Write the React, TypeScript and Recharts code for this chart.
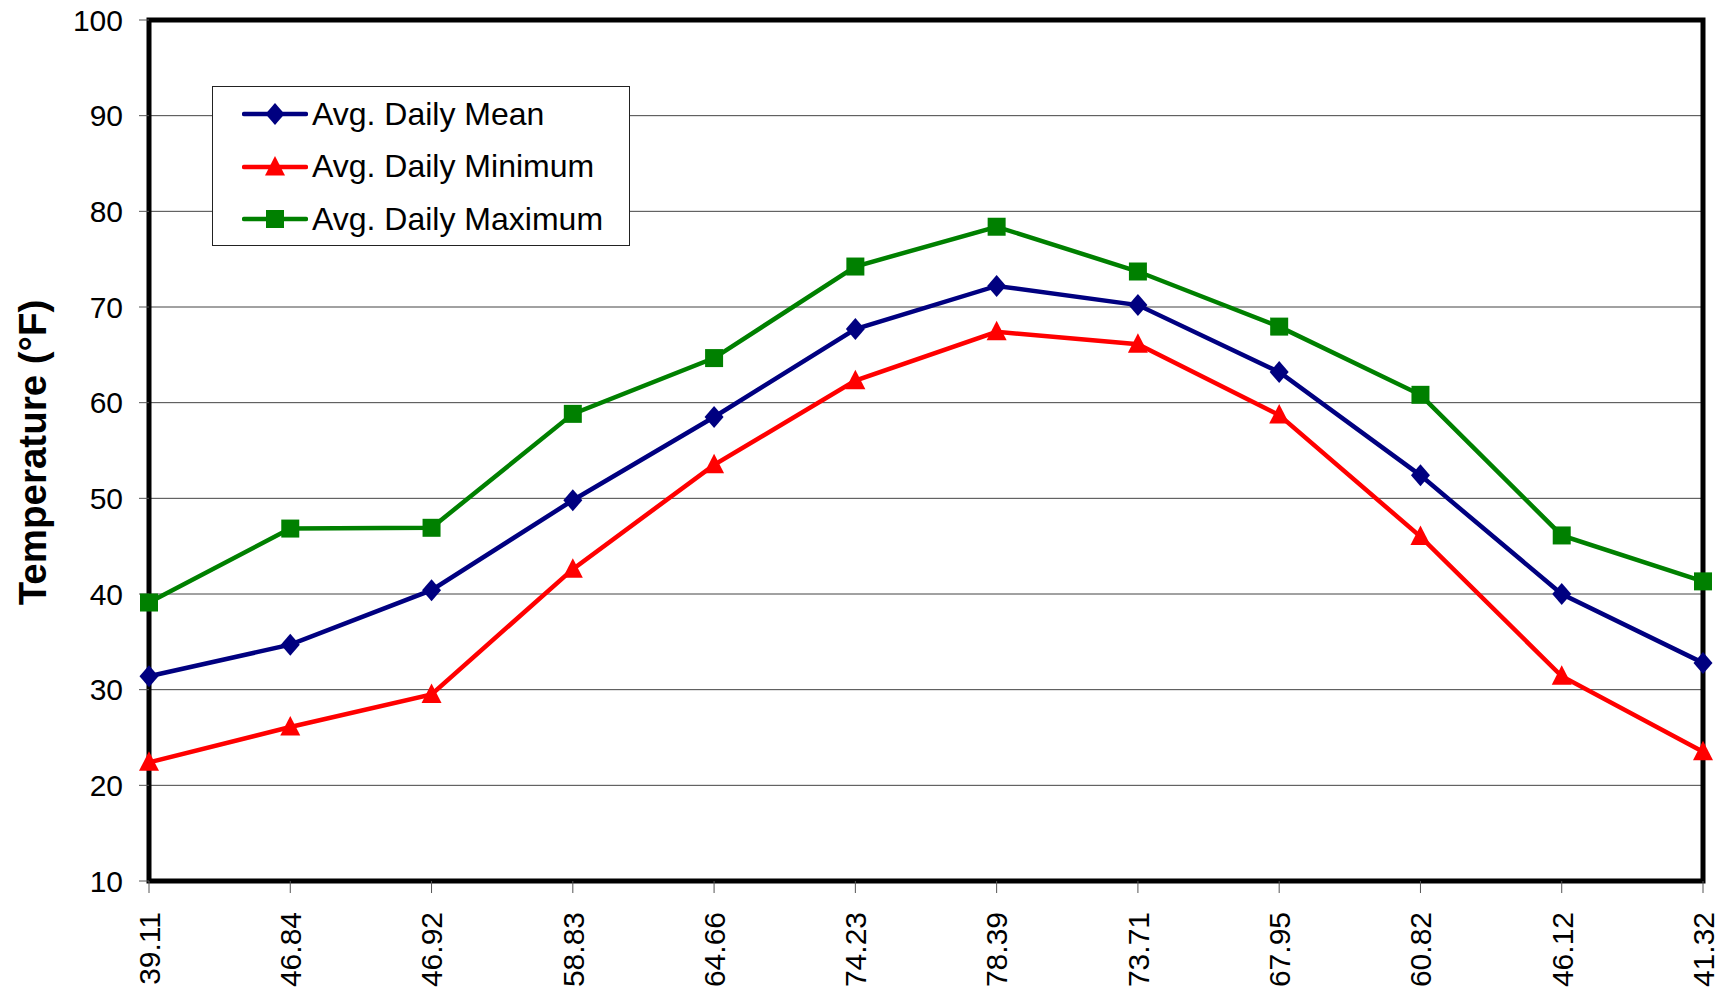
import React from "react";
import { CartesianGrid, Legend, Line, LineChart, ReferenceArea, XAxis, YAxis } from "recharts";

const categories = ["39.11", "46.84", "46.92", "58.83", "64.66", "74.23", "78.39", "73.71", "67.95", "60.82", "46.12", "41.32"];
const meanTemps = [31.4, 34.7, 40.4, 49.8, 58.5, 67.7, 72.2, 70.2, 63.2, 52.4, 40.0, 32.8];
const minTemps = [22.4, 26.1, 29.5, 42.6, 53.5, 62.3, 67.4, 66.1, 58.7, 46.0, 31.4, 23.5];
const maxTemps = [39.11, 46.84, 46.92, 58.83, 64.66, 74.23, 78.39, 73.71, 67.95, 60.82, 46.12, 41.32];
const yTicks = [10, 20, 30, 40, 50, 60, 70, 80, 90, 100];

const FONT = '"Liberation Sans", Arial, sans-serif';

const chartData = categories.map((label, i) => ({
  label,
  mean: meanTemps[i],
  min: minTemps[i],
  max: maxTemps[i],
}));

type Shape = "diamond" | "triangle" | "square";

const series: { key: string; name: string; color: string; shape: Shape }[] = [
  { key: "mean", name: "Avg. Daily Mean", color: "#000080", shape: "diamond" },
  { key: "min", name: "Avg. Daily Minimum", color: "#ff0000", shape: "triangle" },
  { key: "max", name: "Avg. Daily Maximum", color: "#008000", shape: "square" },
];

function markerPath(shape: Shape, cx: number, cy: number) {
  if (shape === "diamond") return `M${cx},${cy - 11}L${cx + 9.5},${cy}L${cx},${cy + 11}L${cx - 9.5},${cy}Z`;
  if (shape === "triangle") return `M${cx},${cy - 11}L${cx + 10},${cy + 8.5}L${cx - 10},${cy + 8.5}Z`;
  return `M${cx - 9},${cy - 9}H${cx + 9}V${cy + 9}H${cx - 9}Z`;
}

function makeDot(shape: Shape, color: string) {
  return (props: any) => {
    if (props.cx == null || props.cy == null) return <g key={props.index} />;
    return <path key={props.index} d={markerPath(shape, props.cx, props.cy)} fill={color} />;
  };
}

function XTick({ x, y, payload }: any) {
  return (
    <text
      transform={`translate(${x},${y + 17}) rotate(-90)`}
      textAnchor="end"
      dy="0.36em"
      fontSize={30}
      fontFamily={FONT}
      fill="#000"
    >
      {payload.value}
    </text>
  );
}

function AxisTitle({ viewBox }: any) {
  const cy = viewBox ? viewBox.y + viewBox.height / 2 : 450;
  return (
    <text
      transform={`translate(46,${cy + 2}) rotate(-90)`}
      textAnchor="middle"
      fontSize={38.5}
      fontWeight="bold"
      fontFamily={FONT}
      fill="#000"
    >
      Temperature (°F)
    </text>
  );
}

function LegendBox() {
  return (
    <div
      style={{
        width: 418,
        height: 160,
        boxSizing: "border-box",
        border: "1px solid #222",
        background: "#fff",
        paddingTop: 1,
        fontFamily: FONT,
      }}
    >
      {series.map((s) => (
        <div key={s.key} style={{ display: "flex", alignItems: "center", height: 52.5 }}>
          <svg width={66} height={26} style={{ marginLeft: 29, marginRight: 4 }}>
            <line x1={2} y1={13} x2={64} y2={13} stroke={s.color} strokeWidth={4.5} strokeLinecap="round" />
            <path d={markerPath(s.shape, 33, 13)} fill={s.color} />
          </svg>
          <span style={{ fontSize: 32, color: "#000", whiteSpace: "nowrap" }}>{s.name}</span>
        </div>
      ))}
    </div>
  );
}

export default function App() {
  return (
    <div style={{ position: "fixed", left: 0, top: 0, background: "#fff" }}>
      <LineChart width={1723} height={991} data={chartData} margin={{ top: 20, right: 20, bottom: 0, left: 0 }}>
        <CartesianGrid vertical={false} stroke="#444" strokeWidth={1} />
        <XAxis
          dataKey="label"
          interval={0}
          height={110}
          tickSize={12}
          axisLine={false}
          tickLine={{ stroke: "#555" }}
          tick={<XTick />}
        />
        <YAxis
          domain={[10, 100]}
          ticks={yTicks}
          width={149}
          tickSize={10}
          tickMargin={16}
          axisLine={false}
          tickLine={{ stroke: "#555" }}
          tick={{ fill: "#000", fontSize: 30, fontFamily: FONT }}
          label={<AxisTitle />}
        />
        <ReferenceArea
          x1={categories[0]}
          x2={categories[categories.length - 1]}
          y1={10}
          y2={100}
          fill="none"
          fillOpacity={0}
          stroke="#000"
          strokeWidth={5}
        />
        <Legend
          layout="vertical"
          align="center"
          verticalAlign="middle"
          wrapperStyle={{ position: "absolute", left: 212, top: 86, width: 418, height: 160 }}
          content={() => <LegendBox />}
        />
        {series.map((s) => (
          <Line
            key={s.key}
            dataKey={s.key}
            name={s.name}
            type="linear"
            stroke={s.color}
            strokeWidth={4.5}
            dot={makeDot(s.shape, s.color)}
            activeDot={false}
            isAnimationActive={false}
          />
        ))}
      </LineChart>
    </div>
  );
}
